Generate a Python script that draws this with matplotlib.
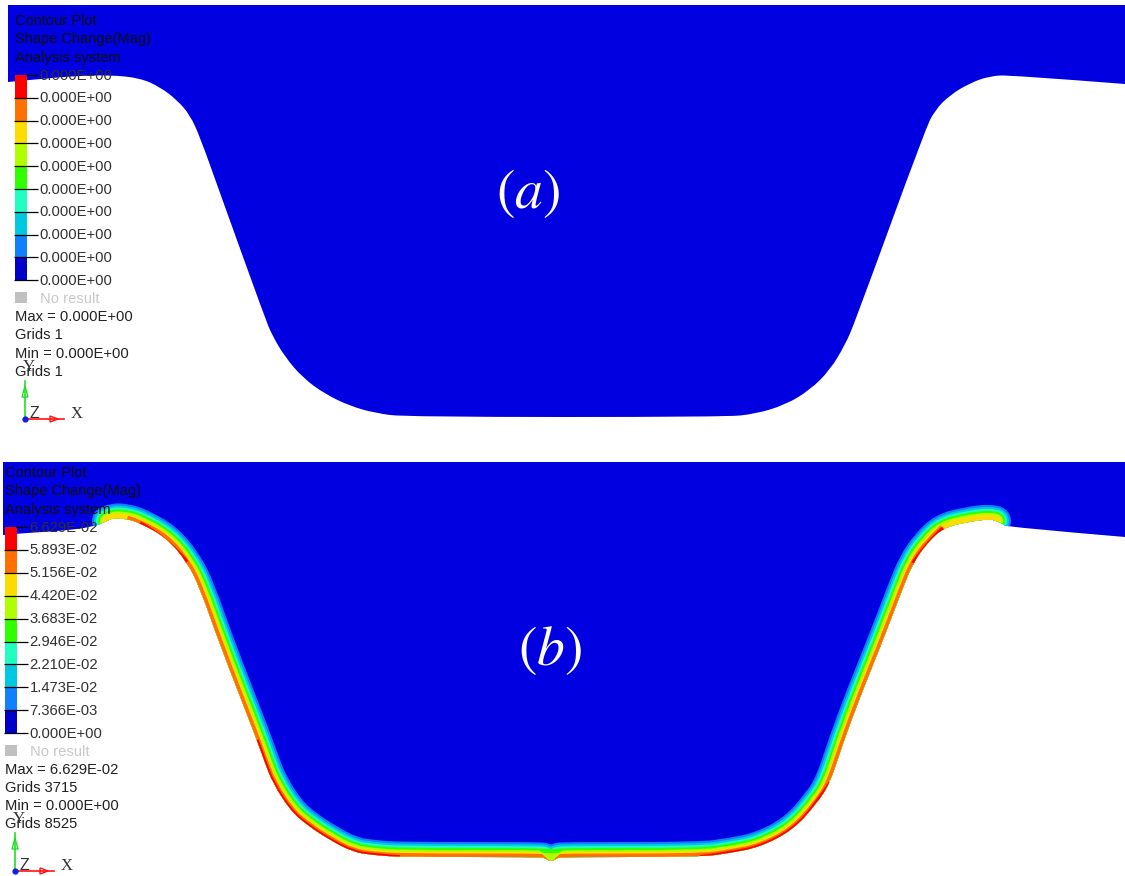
import matplotlib
matplotlib.use('Agg')
import matplotlib.pyplot as plt
from matplotlib.patches import Polygon, Rectangle, PathPatch
from matplotlib.path import Path

# Values (image pixels)
legend_colors = ['#ff0000', '#ff7000', '#ffdc00', '#b0ff00', '#30ff00',
                 '#20ffc0', '#00c8e0', '#1080ff', '#0000c8']
body_color = '#0000e0'
labels_a = ['0.000E+00'] * 10
labels_b = ['6.629E-02', '5.893E-02', '5.156E-02', '4.420E-02', '3.683E-02',
            '2.946E-02', '2.210E-02', '1.473E-02', '7.366E-03', '0.000E+00']
info_a = ['Max = 0.000E+00', 'Grids 1', 'Min = 0.000E+00', 'Grids 1']
info_b = ['Max = 6.629E-02', 'Grids 3715', 'Min = 0.000E+00', 'Grids 8525']
header = ['Contour Plot', 'Shape Change(Mag)', 'Analysis system']

# outlines of the section
edge_a_x = [8, 40, 75, 110, 140, 160, 177, 190, 200, 220, 265, 272, 285, 303, 325, 350, 375, 405,
            725, 755, 785, 810, 830, 845, 855, 925, 935, 950, 970, 990, 1010, 1125]
edge_a_y = [82, 79, 76, 75, 78, 87, 100, 115, 137, 193, 318, 335, 357, 378, 394, 406, 413, 417,
            417, 414, 405, 390, 370, 345, 322, 130, 110, 95, 83, 76, 75, 84]

edge_b_x = [3, 25, 60, 93, 107, 113, 127, 140, 167, 187, 200, 220, 257, 265, 273, 290, 307, 330, 353,
            373, 400, 540, 545, 551, 557, 562, 700, 730, 760, 793, 817, 830, 843, 860, 883,
            902, 913, 927, 943, 967, 990, 996, 1003, 1007, 1125]
edge_b_y = [535, 533, 531, 527, 521, 518, 519, 523, 538, 562, 588, 645, 740, 763, 783, 810, 825, 840, 852,
            855, 857, 857, 858, 862, 858, 857, 857, 853, 847, 830, 803, 783, 743, 697, 640,
            590, 563, 543, 528, 522, 519, 521, 524, 527, 537]

# contour bands along the lower edge of (b), outermost colour last
band_colors = legend_colors[7::-1]
band_depths = [15, 13, 11, 9, 7, 5, 3.5]
band_start, band_stop = 4, 42
orange_start, orange_stop = 6, 39
red_depth = 1.8
red_runs = [(7, 10), (12, 21), (26, 32), (36, 39)]

# small dip in the bands at the middle of the floor
notch_green_x = [537, 565, 551]
notch_green_y = [849, 849, 858]
notch_lime_x = [541, 561, 551]
notch_lime_y = [853, 853, 862]

fig = plt.figure(figsize=(11.25, 8.76), dpi=100)
ax = fig.add_axes([0, 0, 1, 1])
ax.set_xlim(0, 1125)
ax.set_ylim(876, 0)
ax.axis('off')

SANS = 'Liberation Sans'
SERIF = 'Liberation Serif'
FS = 10.6
PX = 0.72  # points per pixel at this dpi


def smooth_path(xs, ys, before=(), after=()):
    # quadratic pieces, the read points act as control points
    verts = list(before) + [(xs[0], ys[0])]
    codes = [Path.MOVETO] + [Path.LINETO] * len(before)
    for i in range(1, len(xs) - 1):
        if i == len(xs) - 2:
            end = (xs[i + 1], ys[i + 1])
        else:
            end = ((xs[i] + xs[i + 1]) / 2, (ys[i] + ys[i + 1]) / 2)
        verts += [(xs[i], ys[i]), end]
        codes += [Path.CURVE3, Path.CURVE3]
    for p in after:
        verts.append(p)
        codes.append(Path.LINETO)
    return Path(verts, codes)


def draw_body(edge_x, edge_y, top):
    path = smooth_path(edge_x, edge_y, before=[(edge_x[0], top)], after=[(edge_x[-1], top), (edge_x[0], top)])
    body = PathPatch(path, fc=body_color, ec='none', zorder=1)
    ax.add_patch(body)
    return body


def draw_band(xs, ys, depth, color, cap, clip, z=2):
    band = PathPatch(smooth_path(xs, ys), fc='none', ec=color, lw=2 * depth * PX, zorder=z,
                     capstyle=cap, joinstyle='round')
    ax.add_patch(band)
    band.set_clip_path(clip)


def draw_legend(x0, y0, step, labels, info, info_y):
    # header text
    for i, t in enumerate(header):
        ax.text(x0, y0 - 54 + i * 18.5, t, family=SANS, fontsize=10.5, color='#101010',
                va='center', ha='left', zorder=6)
    # colour bar
    for i, c in enumerate(legend_colors):
        ax.add_patch(Rectangle((x0, y0 + i * step), 11.5, step, fc=c, ec='none', zorder=4))
    for i, t in enumerate(labels):
        y = y0 + i * step
        start = x0 + 11 if i == 0 else x0 - 1
        ax.plot([start, x0 + 23], [y, y], color='black', lw=0.9, zorder=5, solid_capstyle='butt')
        ax.text(x0 + 24.5, y + 0.5, t, family=SANS, fontsize=FS, color='#303030',
                va='center', ha='left', zorder=6)
    # no result and min/max
    ny = y0 + 9 * step
    ax.add_patch(Rectangle((x0, ny + 12), 11.5, 11, fc='#c0c0c0', ec='none', zorder=4))
    ax.text(x0 + 25, ny + 18.5, 'No result', family=SANS, fontsize=FS, color='#c8c8c8',
            va='center', ha='left', zorder=6)
    for i, t in enumerate(info):
        ax.text(x0, info_y + i * 18.3, t, family=SANS, fontsize=FS, color='#202020',
                va='center', ha='left', zorder=6)


def draw_triad(ox, oy):
    ax.plot([ox, ox], [oy, oy - 38], color='#20e020', lw=1.2, zorder=5)
    ax.plot([ox, ox + 39], [oy, oy], color='#ff1010', lw=1.2, zorder=5)
    ax.add_patch(Polygon([(ox, oy - 33), (ox - 3, oy - 22), (ox + 3, oy - 22)], closed=True,
                         fc='none', ec='#20e020', lw=1, zorder=5))
    ax.add_patch(Polygon([(ox + 33, oy), (ox + 25, oy - 3), (ox + 25, oy + 3)], closed=True,
                         fc='none', ec='#ff1010', lw=1, zorder=5))
    ax.plot([ox], [oy], marker='o', ms=3.5, color='#1020e0', zorder=6)
    ax.text(ox + 4, oy - 5, 'Z', family=SANS, fontsize=11.5, color='#303030',
            va='center', ha='left', zorder=6)
    ax.text(ox + 46, oy - 5, 'X', family=SERIF, fontsize=12, color='#303030',
            va='center', ha='left', zorder=6)
    ax.text(ox + 4, oy - 52, 'Y', family=SERIF, fontsize=12, color='#303030',
            va='center', ha='center', zorder=7)


# panel (a)
draw_body(edge_a_x, edge_a_y, 5)
draw_legend(15, 75, 22.8, labels_a, info_a, 317)
draw_triad(25, 419)
ax.text(528, 193, r'$(\mathit{a})$', fontsize=40, color='white', va='center', ha='center',
        zorder=6, math_fontfamily='stix')

# panel (b)
body_b = draw_body(edge_b_x, edge_b_y, 462)

band_x = edge_b_x[band_start:band_stop]
band_y = edge_b_y[band_start:band_stop]
for depth, c in zip(band_depths[:6], band_colors[:6]):
    draw_band(band_x, band_y, depth, c, 'round', body_b)
draw_band(edge_b_x[orange_start:orange_stop], edge_b_y[orange_start:orange_stop],
          band_depths[6], band_colors[6], 'butt', body_b, z=3)
for a, b in red_runs:
    draw_band(edge_b_x[a:b], edge_b_y[a:b], red_depth, legend_colors[0], 'butt', body_b, z=3)

green = Polygon(list(zip(notch_green_x, notch_green_y)), closed=True, fc=legend_colors[4], ec='none', zorder=4)
lime = Polygon(list(zip(notch_lime_x, notch_lime_y)), closed=True, fc=legend_colors[3], ec='none', zorder=4)
for p in (green, lime):
    ax.add_patch(p)
    p.set_clip_path(body_b)

draw_legend(5, 527, 22.9, labels_b, info_b, 769.5)
draw_triad(15, 871)
ax.text(550, 650, r'$(\mathit{b})$', fontsize=40, color='white', va='center', ha='center',
        zorder=6, math_fontfamily='stix')

fig.savefig('out.png', dpi=100)
